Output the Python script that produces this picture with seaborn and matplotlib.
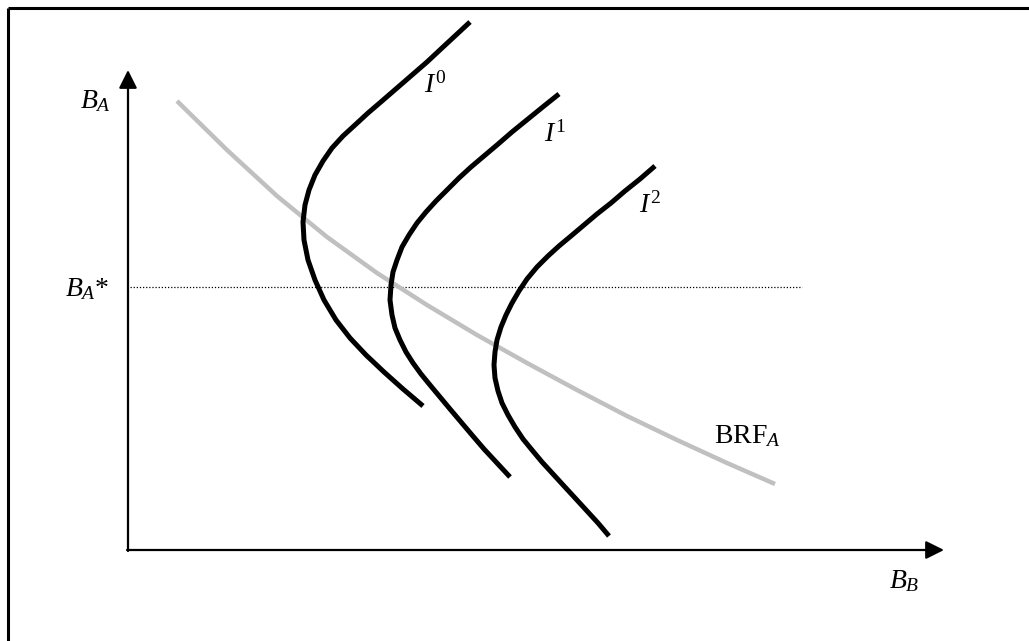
import seaborn as sns
import pandas as pd
from matplotlib import pyplot as plt

# coordinates in picture pixels (x to the right, y downwards)
brf_x = [177, 227, 277, 327, 377, 427, 477, 527, 577, 627, 677, 727, 775]
brf_y = [101, 150, 196, 237, 273, 305, 335, 363, 390, 416, 440, 463, 484]

# indifference curves, read from top end to bottom end
i0_x = [470, 456, 442, 427, 412, 397, 382, 368, 355, 343, 332, 323, 315, 309, 305,
        303, 304, 308, 315, 324, 336, 350, 366, 384, 403, 423]
i0_y = [22, 35, 48, 62, 75, 88, 101, 113, 125, 136, 148, 161, 175, 190, 205,
        222, 240, 260, 280, 300, 320, 338, 355, 372, 389, 406]

i1_x = [559, 544, 528, 512, 497, 484, 471, 459, 447, 436, 426, 417, 409, 402, 397,
        393, 391, 390, 392, 395, 400, 406, 413, 421, 430, 440, 450, 461, 472, 484,
        497, 510]
i1_y = [94, 106, 119, 132, 145, 156, 167, 178, 190, 201, 212, 223, 235, 247, 260,
        272, 285, 300, 315, 328, 340, 352, 363, 374, 385, 397, 409, 422, 435, 449,
        463, 477]

i2_x = [655, 640, 625, 611, 597, 584, 571, 559, 548, 537, 527, 519, 512, 506, 501,
        497, 495, 494, 495, 498, 502, 508, 515, 523, 532, 542, 553, 564, 576, 587,
        598, 609]
i2_y = [166, 179, 191, 203, 214, 225, 236, 246, 256, 267, 279, 291, 303, 315, 327,
        340, 352, 365, 378, 391, 403, 415, 427, 439, 450, 462, 474, 486, 499, 511,
        523, 536]

b_star_y = 287
dotted_x = [130, 802]

sns.set_style("white")
plt.rcParams["font.family"] = ["Liberation Serif", "DejaVu Serif"]
plt.rcParams["mathtext.fontset"] = "custom"
plt.rcParams["mathtext.rm"] = "Liberation Serif"
plt.rcParams["mathtext.it"] = "Liberation Serif:italic"
plt.rcParams["text.color"] = "black"

fig = plt.figure(figsize=(10.29, 6.41), dpi=100)
ax = fig.add_axes([0, 0, 1, 1])

# frame (top and left only)
ax.plot([8, 1029], [8, 8], color="black", lw=2.2, solid_capstyle="butt")
ax.plot([8, 8], [8, 641], color="black", lw=2.2, solid_capstyle="butt")

# axes with arrows
arrow = dict(arrowstyle="-|>,head_length=1.1,head_width=0.55", mutation_scale=10,
             color="black", lw=1.6, shrinkA=0, shrinkB=0)
ax.annotate("", xy=(128, 70), xytext=(128, 551), arrowprops=arrow)
ax.annotate("", xy=(944, 550), xytext=(127, 550), arrowprops=arrow)

# B_A* level
ax.plot(dotted_x, [b_star_y, b_star_y], color="black", lw=0.9, ls=(0, (1, 1.5)))

# best response function
brf = pd.DataFrame({"x": brf_x, "y": brf_y})
sns.lineplot(data=brf, x="x", y="y", sort=False, estimator=None, ax=ax,
             color="#c0c0c0", lw=3.2, solid_capstyle="butt", solid_joinstyle="round")

# indifference curves
for xs, ys in ((i0_x, i0_y), (i1_x, i1_y), (i2_x, i2_y)):
    curve = pd.DataFrame({"x": xs, "y": ys})
    sns.lineplot(data=curve, x="x", y="y", sort=False, estimator=None, ax=ax,
                 color="black", lw=3.6, solid_capstyle="butt", solid_joinstyle="round")

ax.set_xlim(0, 1029)
ax.set_ylim(641, 0)
ax.axis("off")

fs = 20
ax.text(80, 108, r"$B_A$", fontsize=fs, va="baseline")
ax.text(65, 296, r"$B_A$*", fontsize=fs, va="baseline")
ax.text(889, 588, r"$B_B$", fontsize=fs, va="baseline")
ax.text(714, 443, r"BRF$_A$", fontsize=fs, va="baseline")
ax.text(424, 93, r"$I^{\mathrm{0}}$", fontsize=fs, va="baseline")
ax.text(544, 142, r"$I^{\mathrm{1}}$", fontsize=fs, va="baseline")
ax.text(639, 213, r"$I^{\mathrm{2}}$", fontsize=fs, va="baseline")

plt.savefig("out.png", dpi=100)
